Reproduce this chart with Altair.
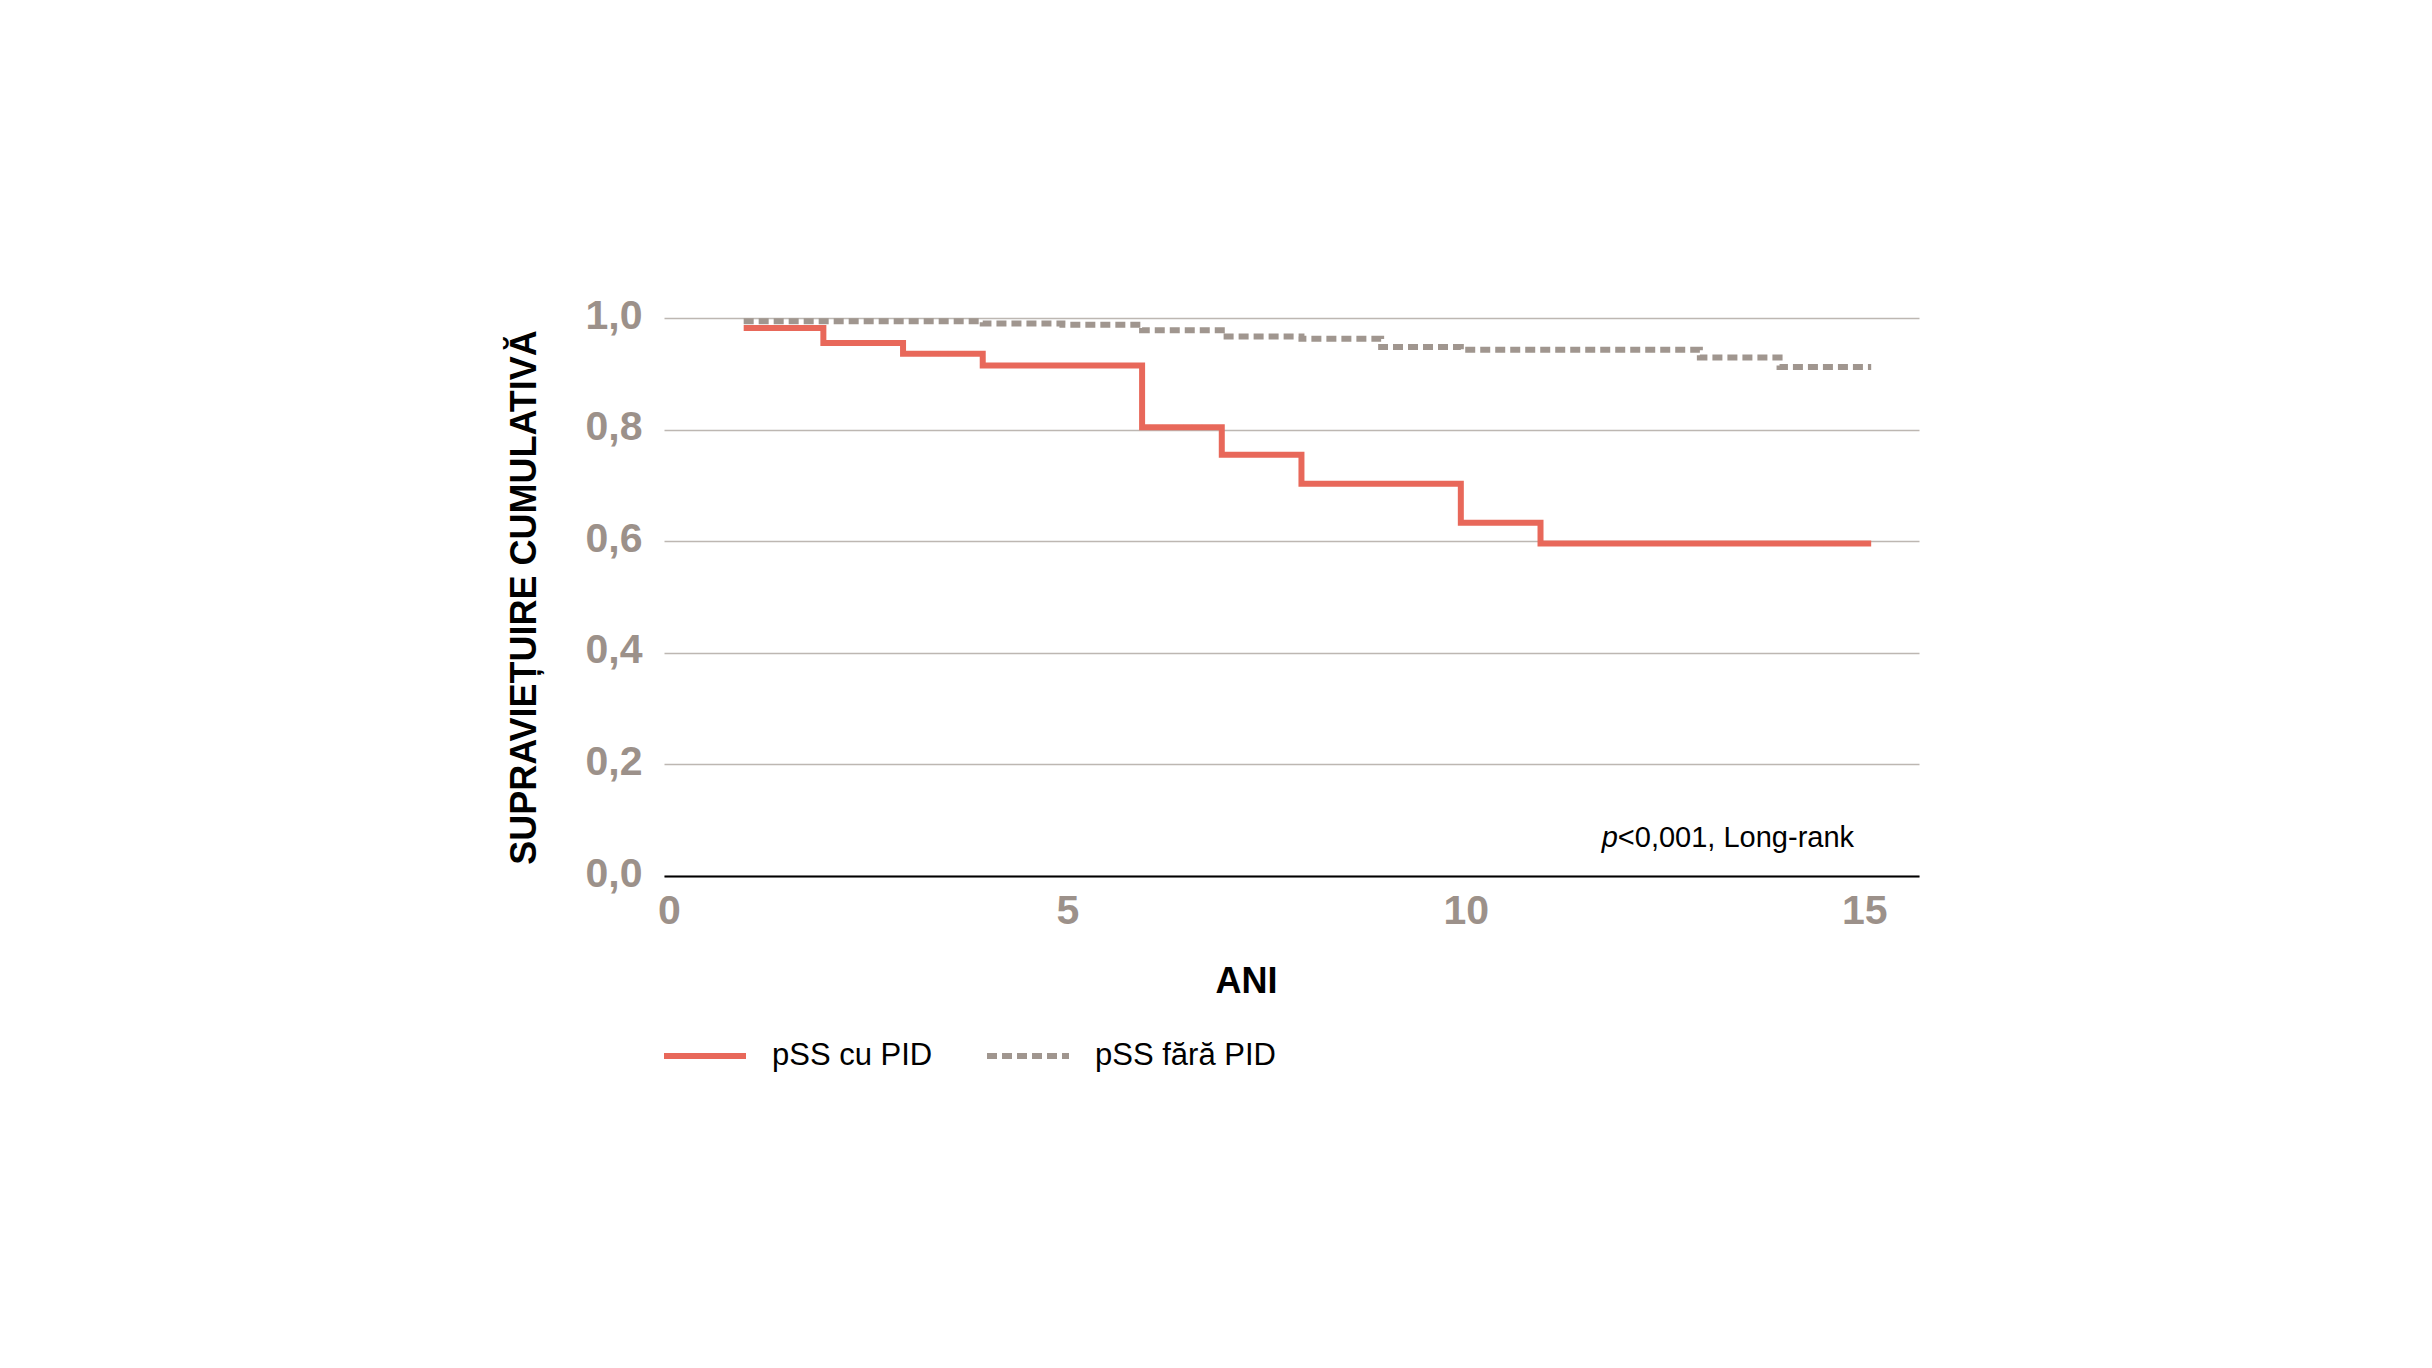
import altair as alt
import pandas as pd

# --- data (Kaplan-Meier steps) ---
group_names = ["pSS cu PID", "pSS fără PID"]
red_years = [1, 2, 3, 4, 6, 7, 8, 10, 11, 15.15]
red_surv = [0.982, 0.955, 0.936, 0.915, 0.804, 0.755, 0.703, 0.633, 0.596, 0.596]
gray_years = [1, 4, 5, 6, 7, 8, 9, 10, 13, 14, 15.15]
gray_surv = [0.994, 0.990, 0.988, 0.978, 0.967, 0.963, 0.948, 0.943, 0.929, 0.912, 0.912]
x_ticks = [0, 5, 10, 15]
y_ticks = [0, 0.2, 0.4, 0.6, 0.8, 1.0]
annot_x = [11.77]
annot_y = [0.052]
annot_p = ["p"]
annot_rest = ["<0,001, Long-rank"]

RED = "#e8685a"
GRAY = "#a0968f"
LABEL_GRAY = "#9c918a"
FONT = "Liberation Sans"

rows = []
for x, y in zip(red_years, red_surv):
    rows.append({"ani": x, "supr": y, "grup": group_names[0]})
for x, y in zip(gray_years, gray_surv):
    rows.append({"ani": x, "supr": y, "grup": group_names[1]})
df = pd.DataFrame(rows)

x_scale = alt.Scale(domain=[0, 15.75], nice=False, zero=False)
y_scale = alt.Scale(domain=[0, 1], nice=False)

x_axis = alt.Axis(
    values=x_ticks, format="d", title="ANI", grid=False, ticks=False, tickSize=0,
    domainColor="black", domainWidth=2,
    labelFont=FONT, labelFontSize=41, labelFontWeight="bold", labelColor=LABEL_GRAY,
    labelPadding=15, labelFlush=False, labelOffset=5,
    titleFont=FONT, titleFontSize=36, titleFontWeight="bold", titleColor="black",
    titleX=582, titleY=116, titleBaseline="alphabetic", titleAlign="center",
)
y_axis = alt.Axis(
    values=y_ticks, title="SUPRAVIEȚUIRE CUMULATIVĂ", grid=True,
    gridColor="#bdb7b2", gridWidth=1.5, domain=False, ticks=False, tickSize=0,
    labelExpr="replace(format(datum.value, '.1f'), '.', ',')",
    labelFont=FONT, labelFontSize=41, labelFontWeight="bold", labelColor=LABEL_GRAY,
    labelPadding=22, labelBaseline="alphabetic", labelOffset=10,
    titleFont=FONT, titleFontSize=36, titleFontWeight="bold", titleColor="black",
    titleAngle=270, titleX=-129, titleY=279, titleBaseline="alphabetic", titleAlign="center",
)

legend = alt.Legend(
    orient="none", legendX=-3, legendY=694, direction="horizontal", title=None,
    symbolType="stroke", symbolSize=6724, symbolStrokeWidth=6,
    labelFont=FONT, labelFontSize=31, labelColor="black", labelOffset=23,
    labelLimit=0, columnPadding=42, padding=0,
)

lines = alt.Chart(df).mark_line(interpolate="step-after", strokeWidth=6, strokeCap="butt").encode(
    x=alt.X("ani:Q", scale=x_scale, axis=x_axis),
    y=alt.Y("supr:Q", scale=y_scale, axis=y_axis),
    color=alt.Color("grup:N", scale=alt.Scale(domain=group_names, range=[RED, GRAY]), legend=legend),
    strokeDash=alt.StrokeDash("grup:N", scale=alt.Scale(domain=group_names, range=[[1, 0], [10, 5]]), legend=legend),
)

annot_df = pd.DataFrame({"x": annot_x, "y": annot_y, "p": annot_p, "rest": annot_rest})
p_text = alt.Chart(annot_df).mark_text(
    font=FONT, fontSize=29, fontStyle="italic", align="left", baseline="alphabetic", color="black"
).encode(x=alt.X("x:Q", scale=x_scale), y=alt.Y("y:Q", scale=y_scale), text="p:N")
rest_text = alt.Chart(annot_df).mark_text(
    font=FONT, fontSize=29, align="left", baseline="alphabetic", color="black", dx=16
).encode(x=alt.X("x:Q", scale=x_scale), y=alt.Y("y:Q", scale=y_scale), text="rest:N")

chart = alt.layer(lines, p_text, rest_text).properties(
    width=1255, height=558,
    autosize=alt.AutoSizeParams(type="none"),
    padding={"left": 656, "top": 310, "right": 480, "bottom": 460},
    background="white",
).configure_view(stroke=None)

chart.save("out.html", embed_options={"renderer": "svg", "actions": False})
